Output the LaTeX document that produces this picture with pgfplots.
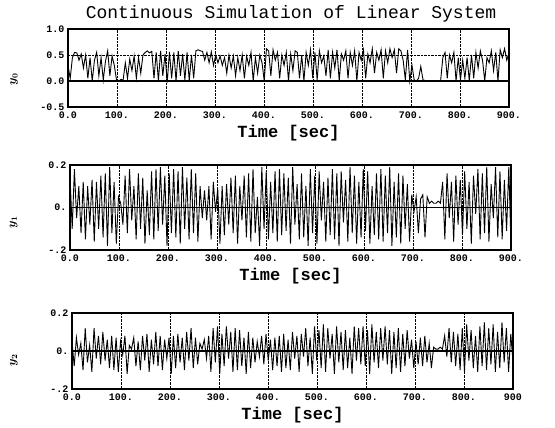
\documentclass[border=0pt]{standalone}
\usepackage{pgfplots}
\usepackage{pgfplotstable}
\pgfplotsset{compat=1.18}
\usepackage{fontspec}
\setmainfont{Liberation Mono}

% one value every 4.5 s, t = 0 ... 900
\pgfplotstableread[header=false,row sep=\\]{
0.30\\0.05\\0.45\\0.55\\0.54\\0.40\\0.52\\0.25\\0.50\\0.05\\
0.45\\0.00\\0.40\\0.55\\0.10\\0.45\\0.02\\0.38\\0.58\\0.10\\
0.48\\0.30\\0.02\\0.00\\0.03\\0.02\\0.35\\0.05\\0.42\\0.20\\
0.48\\0.05\\0.45\\0.15\\0.50\\0.55\\0.58\\0.54\\0.57\\0.05\\
0.55\\0.00\\0.58\\0.10\\0.52\\-0.03\\0.56\\0.05\\0.55\\0.00\\
0.58\\0.10\\0.52\\0.02\\0.55\\0.00\\0.50\\0.05\\0.58\\0.60\\
0.58\\0.57\\0.40\\0.55\\0.35\\0.56\\0.30\\0.50\\0.35\\0.48\\
0.30\\0.45\\0.15\\0.50\\0.25\\0.48\\0.10\\0.45\\0.20\\0.50\\
0.05\\0.48\\0.30\\0.55\\0.00\\0.45\\0.15\\0.50\\0.35\\0.00\\
0.62\\0.58\\0.10\\0.60\\0.40\\0.55\\0.05\\0.50\\0.30\\0.55\\
0.00\\0.52\\0.20\\0.58\\0.55\\0.05\\0.50\\0.00\\0.55\\0.30\\
0.60\\0.05\\0.55\\0.02\\0.58\\0.35\\0.48\\0.10\\0.60\\0.05\\
0.55\\0.25\\0.60\\0.00\\0.52\\0.40\\0.58\\0.05\\0.55\\0.30\\
0.58\\0.00\\0.55\\0.40\\0.60\\0.05\\0.52\\0.35\\0.62\\0.15\\
0.55\\0.40\\0.60\\0.05\\0.58\\0.35\\0.62\\0.45\\0.60\\0.15\\
0.62\\0.58\\0.40\\0.02\\0.60\\0.00\\0.30\\0.02\\0.00\\0.05\\
0.28\\0.02\\0.01\\0.00\\0.01\\0.00\\0.00\\0.01\\0.00\\0.01\\
0.45\\0.55\\0.05\\0.50\\0.35\\0.55\\0.00\\0.45\\0.02\\0.40\\
0.05\\0.45\\0.00\\0.50\\0.05\\0.55\\0.25\\0.58\\0.40\\0.00\\
0.45\\0.35\\0.58\\0.20\\0.55\\0.00\\0.60\\0.45\\0.62\\0.40\\
0.55\\}\yzero

\pgfplotstableread[header=false,row sep=\\]{
0.15\\-0.10\\0.18\\-0.05\\0.10\\-0.12\\0.12\\-0.15\\0.10\\-0.08\\
0.13\\-0.16\\0.12\\-0.10\\0.15\\-0.14\\0.16\\-0.18\\0.19\\-0.12\\
0.12\\-0.17\\0.05\\0.02\\-0.08\\0.15\\-0.12\\0.18\\-0.06\\0.10\\
-0.15\\0.16\\-0.10\\0.14\\-0.17\\0.08\\-0.13\\0.17\\-0.15\\0.18\\
-0.11\\0.19\\-0.08\\0.15\\-0.18\\0.16\\-0.12\\0.18\\-0.14\\0.17\\
-0.17\\0.19\\-0.10\\0.14\\-0.15\\0.18\\-0.12\\0.16\\-0.16\\0.10\\
-0.05\\0.08\\-0.06\\0.10\\-0.15\\0.12\\-0.02\\0.09\\-0.17\\0.10\\
-0.13\\0.11\\-0.08\\0.14\\-0.12\\0.15\\-0.17\\0.10\\-0.06\\0.15\\
-0.14\\0.16\\-0.16\\0.18\\-0.12\\0.05\\-0.18\\0.19\\-0.10\\0.17\\
-0.15\\0.12\\-0.12\\0.17\\-0.16\\0.18\\-0.13\\0.16\\-0.11\\0.14\\
-0.17\\0.19\\-0.08\\0.11\\-0.15\\0.16\\-0.14\\0.10\\-0.18\\0.18\\
-0.12\\0.15\\-0.17\\0.17\\-0.06\\0.12\\-0.16\\0.14\\-0.13\\0.18\\
-0.15\\0.16\\-0.18\\0.17\\-0.07\\0.13\\-0.16\\0.19\\-0.12\\0.15\\
-0.17\\0.12\\-0.14\\0.18\\-0.11\\0.17\\-0.17\\0.10\\-0.13\\0.16\\
-0.15\\0.18\\-0.16\\0.15\\-0.12\\0.19\\-0.18\\0.12\\-0.14\\0.16\\
-0.17\\0.15\\-0.10\\0.11\\-0.16\\0.06\\-0.02\\0.05\\-0.12\\0.04\\
0.06\\-0.14\\0.05\\0.02\\0.03\\0.02\\0.02\\0.03\\0.02\\0.12\\
-0.15\\0.16\\-0.05\\0.12\\-0.16\\0.15\\-0.08\\0.13\\-0.13\\0.17\\
-0.10\\0.12\\-0.17\\0.15\\-0.03\\0.18\\-0.15\\0.16\\-0.12\\0.19\\
-0.16\\0.11\\-0.05\\0.19\\-0.14\\0.17\\-0.15\\0.13\\-0.11\\0.19\\
-0.18\\}\yone

\pgfplotstableread[header=false,row sep=\\]{
0.05\\-0.08\\0.07\\-0.02\\0.04\\-0.10\\0.12\\-0.06\\0.03\\-0.11\\
0.12\\-0.04\\0.08\\-0.07\\0.10\\-0.05\\0.06\\-0.09\\0.08\\-0.10\\
0.07\\-0.11\\0.05\\-0.02\\0.08\\-0.12\\0.03\\0.01\\0.07\\-0.08\\
0.05\\-0.10\\0.08\\-0.05\\0.09\\-0.11\\0.06\\-0.07\\0.10\\-0.08\\
0.08\\-0.10\\0.06\\-0.04\\0.07\\-0.12\\0.08\\-0.09\\0.09\\-0.06\\
0.07\\-0.10\\0.10\\-0.05\\0.12\\-0.09\\0.07\\-0.07\\0.04\\0.01\\
0.06\\-0.04\\0.08\\-0.11\\0.12\\-0.06\\0.13\\-0.12\\0.09\\-0.08\\
0.13\\-0.04\\0.10\\-0.11\\0.12\\-0.10\\0.11\\-0.08\\0.07\\-0.12\\
0.10\\-0.09\\0.07\\-0.06\\0.05\\-0.03\\0.08\\-0.07\\0.09\\-0.05\\
0.06\\-0.10\\0.07\\-0.08\\0.08\\-0.11\\0.09\\-0.09\\0.06\\-0.10\\
0.10\\-0.04\\0.08\\-0.11\\0.09\\-0.03\\0.12\\-0.08\\0.07\\-0.12\\
0.13\\-0.05\\0.11\\-0.09\\0.14\\-0.11\\0.12\\-0.04\\0.09\\-0.12\\
0.13\\-0.06\\0.10\\-0.10\\0.11\\-0.09\\0.07\\-0.12\\0.13\\-0.05\\
0.12\\-0.07\\0.13\\-0.08\\0.11\\-0.12\\0.14\\-0.06\\0.10\\-0.09\\
0.12\\-0.05\\0.13\\-0.07\\0.11\\-0.12\\0.10\\-0.09\\0.12\\-0.11\\
0.09\\-0.08\\0.11\\-0.04\\0.06\\-0.09\\0.05\\-0.07\\0.07\\-0.08\\
0.08\\-0.06\\0.04\\-0.09\\0.02\\0.01\\0.01\\0.02\\0.01\\0.08\\
-0.03\\0.12\\-0.06\\0.10\\-0.08\\0.09\\-0.10\\0.12\\-0.11\\0.14\\
-0.05\\0.11\\-0.09\\0.08\\-0.11\\0.13\\-0.08\\0.15\\-0.10\\0.12\\
-0.07\\0.14\\-0.11\\0.10\\-0.09\\0.15\\-0.06\\0.12\\-0.11\\0.09\\
-0.06\\}\ytwo

\pgfplotsset{
  scope panel/.style={
    anchor=south west,
    scale only axis,
    width=441pt,
    xmin=0, xmax=900,
    xtick={0,100,...,900},
    axis line style={black, line width=1.1pt},
    major tick length=0pt,
    grid=major,
    major grid style={black, densely dotted, line width=0.6pt},
    tick label style={font=\bfseries\fontsize{10}{11}\selectfont},
    xticklabel style={anchor=center, yshift=-8pt},
    xlabel={Time [sec]},
    every axis x label/.style={at={(axis description cs:0.5,0)}, anchor=center,
      yshift=-26pt, font=\bfseries\fontsize{17}{19}\selectfont},
  },
  ylab/.style n args={2}{
    every axis y label/.style={at={(axis description cs:#1,#2)}, rotate=90,
      anchor=center, font=\boldmath\fontsize{12}{13}\selectfont},
  },
}

\begin{document}
\begin{tikzpicture}[x=1pt,y=1pt]
  \path (0,0) rectangle (555,-428);
  \node[font=\fontsize{18}{20}\selectfont] at (291,-14) {Continuous Simulation of Linear System};

  \begin{axis}[scope panel,
    at={(68pt,-107pt)}, height=78pt,
    ymin=-0.5, ymax=1.0,
    ytick={-0.5,0,0.5,1},
    yticklabels={-0.5,0.0,0.5,1.0},
    xticklabels={0.0,100.,200.,300.,400.,500.,600.,700.,800.,900.},
    ylabel={$y_0$}, ylab={-0.122}{0.35},
  ]
    \addplot[black, line width=1.2pt] coordinates {(0,0) (900,0)};
    \addplot[black, line width=0.9pt] table[x expr=\coordindex*4.5, y index=0] {\yzero};
  \end{axis}

  \begin{axis}[scope panel,
    at={(70pt,-250pt)}, height=85pt,
    ymin=-0.2, ymax=0.2,
    ytick={-0.2,0,0.2},
    yticklabels={-.2,0.,0.2},
    xticklabels={0.0,100.,200.,300.,400.,500.,600.,700.,800.,900.},
    ylabel={$y_1$}, ylab={-0.128}{0.33},
  ]
    \addplot[black, line width=1.2pt] coordinates {(0,0) (900,0)};
    \addplot[black, line width=0.9pt] table[x expr=\coordindex*4.5, y index=0] {\yone};
  \end{axis}

  \begin{axis}[scope panel,
    at={(72pt,-389pt)}, height=76pt,
    ymin=-0.2, ymax=0.2,
    ytick={-0.2,0,0.2},
    yticklabels={-.2,0.,0.2},
    xticklabels={0.0,100.,200.,300.,400.,500.,600.,700.,800.,900},
    ylabel={$y_2$}, ylab={-0.132}{0.38},
  ]
    \addplot[black, line width=1.2pt] coordinates {(0,0) (900,0)};
    \addplot[black, line width=0.9pt] table[x expr=\coordindex*4.5, y index=0] {\ytwo};
  \end{axis}
\end{tikzpicture}
\end{document}
